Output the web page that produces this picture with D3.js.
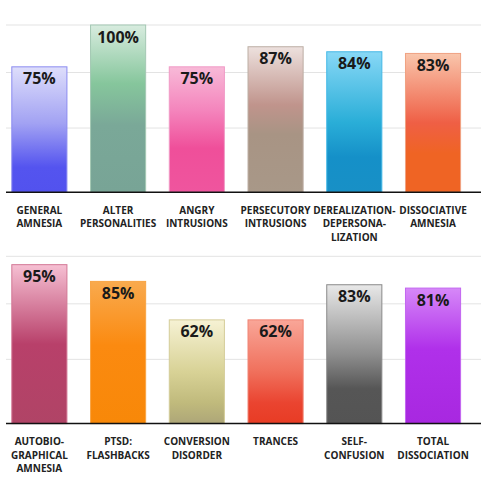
<!DOCTYPE html>
<html>
<head>
<meta charset="utf-8">
<script src="https://cdn.jsdelivr.net/npm/d3@7"></script>
<style>
  body { margin: 0; background: #fff; }
  svg { display: block; font-family: "Open Sans", sans-serif; }
</style>
</head>
<body>
<svg width="491" height="500"></svg>
<script>
// top row
const topCategories = [
    ["GENERAL", "AMNESIA"],
    ["ALTER", "PERSONALITIES"],
    ["ANGRY", "INTRUSIONS"],
    ["PERSECUTORY", "INTRUSIONS"],
    ["DEREALIZATION-", "DEPERSONA-", "LIZATION"],
    ["DISSOCIATIVE", "AMNESIA"]
];
const topValues = [75, 100, 75, 87, 84, 83];

// bottom row
const bottomCategories = [
    ["AUTOBIO-", "GRAPHICAL", "AMNESIA"],
    ["PTSD:", "FLASHBACKS"],
    ["CONVERSION", "DISORDER"],
    ["TRANCES"],
    ["SELF-", "CONFUSION"],
    ["TOTAL", "DISSOCIATION"]
];
const bottomValues = [95, 85, 62, 62, 83, 81];

const gridTicks = [38.4, 71.6, 100];

// gradient stops per bar, top -> bottom, plus outline colour
const topColors = [
    { stops: [[0, "#dedefb"], [0.45, "#a2a2f3"], [0.8, "#5454ef"], [1, "#5252ee"]], stroke: "#8c8cf0" },
    { stops: [[0, "#d8ecdf"], [0.35, "#86c69c"], [0.6, "#7aa898"], [1, "#78a496"]], stroke: "#a4c8b4" },
    { stops: [[0, "#f8bad8"], [0.35, "#f484bc"], [0.65, "#ef4f9a"], [1, "#ef559e"]], stroke: "#f09ac6" },
    { stops: [[0, "#ede1de"], [0.4, "#c0948c"], [0.6, "#a89484"], [1, "#a89888"]], stroke: "#bcaea4" },
    { stops: [[0, "#88d8f6"], [0.5, "#2aaed8"], [0.75, "#1590c8"], [1, "#1890c6"]], stroke: "#44b8e6" },
    { stops: [[0, "#f9c6ac"], [0.5, "#ef5f45"], [0.72, "#ef6424"], [1, "#ef6424"]], stroke: "#f0a282" }
];
const bottomColors = [
    { stops: [[0, "#f6c0d3"], [0.5, "#b8406a"], [1, "#b04466"]], stroke: "#d27896" },
    { stops: [[0, "#f9aa4e"], [0.45, "#fb8a10"], [1, "#f88808"]], stroke: "#f8a444" },
    { stops: [[0, "#f6f2d4"], [0.5, "#d8d296"], [0.8, "#c0ba7c"], [1, "#ada678"]], stroke: "#d4cc98" },
    { stops: [[0, "#f9a698"], [0.5, "#f0705c"], [0.8, "#ea4430"], [1, "#e83c24"]], stroke: "#f08474" },
    { stops: [[0, "#e8e8e8"], [0.5, "#8e8e8e"], [0.75, "#565656"], [1, "#545454"]], stroke: "#8a8a8a" },
    { stops: [[0, "#d688f8"], [0.45, "#b030ea"], [1, "#a828e0"]], stroke: "#c266f0" }
];

const svg = d3.select("svg");
const defs = svg.append("defs");

function drawPanel(id, categories, values, colors, top) {
    const height = 167.3;
    const g = svg.append("g").attr("transform", `translate(0, ${top})`);

    const xScale = d3.scaleBand()
        .domain(d3.range(values.length))
        .range([0, 472.4])
        .paddingInner(0.3)
        .paddingOuter(0.15);

    const yScale = d3.scaleLinear()
        .domain([0, 100])
        .range([height, 0]);

    // gridlines
    g.selectAll(".grid")
        .data(gridTicks)
        .enter().append("line")
        .attr("x1", 6)
        .attr("x2", 481)
        .attr("y1", d => yScale(d))
        .attr("y2", d => yScale(d))
        .attr("stroke", "#e3e3e3")
        .attr("stroke-width", 1);

    colors.forEach((c, i) => {
        const grad = defs.append("linearGradient")
            .attr("id", `${id}-grad-${i}`)
            .attr("x1", 0).attr("y1", 0).attr("x2", 0).attr("y2", 1);
        c.stops.forEach(s => {
            grad.append("stop").attr("offset", s[0]).attr("stop-color", s[1]);
        });
    });

    g.selectAll(".bar")
        .data(values)
        .enter().append("rect")
        .attr("x", (d, i) => xScale(i))
        .attr("y", d => yScale(d))
        .attr("width", xScale.bandwidth())
        .attr("height", d => height - yScale(d))
        .attr("fill", (d, i) => `url(#${id}-grad-${i})`)
        .attr("stroke", (d, i) => colors[i].stroke)
        .attr("stroke-width", 1);

    g.selectAll(".value")
        .data(values)
        .enter().append("text")
        .attr("x", (d, i) => xScale(i) + xScale.bandwidth() / 2)
        .attr("y", d => yScale(d) + 17.5)
        .attr("text-anchor", "middle")
        .attr("font-size", 16)
        .attr("font-weight", "bold")
        .attr("fill", "#1a1a1a")
        .text(d => d + "%");

    // baseline
    g.append("line")
        .attr("x1", 6)
        .attr("x2", 481)
        .attr("y1", yScale(0))
        .attr("y2", yScale(0))
        .attr("stroke", "#111")
        .attr("stroke-width", 1.5);

    const labels = g.selectAll(".label")
        .data(categories)
        .enter().append("text")
        .attr("text-anchor", "middle")
        .attr("font-size", 10)
        .attr("font-weight", "bold")
        .attr("fill", "#222");

    labels.selectAll("tspan")
        .data((d, i) => d.map(line => ({ line, i })))
        .enter().append("tspan")
        .attr("x", d => xScale(d.i) + xScale.bandwidth() / 2)
        .attr("y", (d, j) => height + 21.7 + j * 13.4)
        .text(d => d.line);
}

drawPanel("top", topCategories, topValues, topColors, 25);
drawPanel("bottom", bottomCategories, bottomValues, bottomColors, 256.3);
</script>
</body>
</html>
